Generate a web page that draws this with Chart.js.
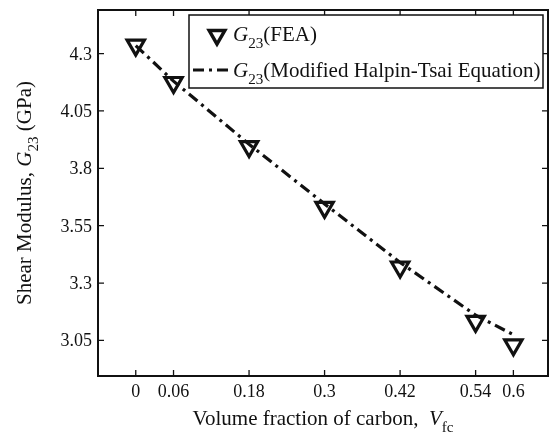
<!DOCTYPE html>
<html>
<head>
<meta charset="utf-8">
<script src="https://cdn.jsdelivr.net/npm/chart.js@4.4.1/dist/chart.umd.min.js"></script>
<style>
  html, body { margin: 0; padding: 0; background: #fff; overflow: hidden; }
  #wrap { width: 549px; height: 438px; position: relative; }
  #wrap canvas { display: block; }
</style>
</head>
<body>
<div id="wrap"><canvas id="g23Chart"></canvas></div>
<script>
// Volume fraction of carbon vs shear modulus G23 (GPa)
const volumeFractions = [0, 0.06, 0.18, 0.3, 0.42, 0.54, 0.6];
const feaValues = [4.337, 4.174, 3.895, 3.63, 3.37, 3.133, 3.031];
const halpinTsaiValues = [4.335, 4.18, 3.905, 3.645, 3.39, 3.16, 3.075];

const xTickValues = [0, 0.06, 0.18, 0.3, 0.42, 0.54, 0.6];
const xTickLabels = ["0", "0.06", "0.18", "0.3", "0.42", "0.54", "0.6"];
const yTickValues = [3.05, 3.3, 3.55, 3.8, 4.05, 4.3];
const yTickLabels = ["3.05", "3.3", "3.55", "3.8", "4.05", "4.3"];

const SERIF = "'Liberation Serif', 'DejaVu Serif', serif";
const INK = "#111";
const DASH = [11, 5, 3, 5];

// draw text made of pieces (italic letters, subscripts)
function drawRichText(ctx, parts, x, y, size) {
  let cx = x;
  parts.forEach((p) => {
    const fs = p.sub ? size * 0.72 : size;
    ctx.font = `${p.italic ? "italic " : ""}${fs}px ${SERIF}`;
    ctx.fillText(p.text, cx, y + (p.sub ? size * 0.33 : 0));
    cx += ctx.measureText(p.text).width;
  });
}

function richTextWidth(ctx, parts, size) {
  let w = 0;
  parts.forEach((p) => {
    const fs = p.sub ? size * 0.72 : size;
    ctx.font = `${p.italic ? "italic " : ""}${fs}px ${SERIF}`;
    w += ctx.measureText(p.text).width;
  });
  return w;
}

// MATLAB-style box: frame, inward ticks, tick labels, titles and legend
const framePlugin = {
  id: "frame",
  afterDraw(chart) {
    const { ctx, chartArea: a, scales } = chart;
    ctx.save();
    ctx.strokeStyle = INK;
    ctx.lineWidth = 2;
    ctx.strokeRect(a.left, a.top, a.right - a.left, a.bottom - a.top);

    ctx.lineWidth = 1.3;
    ctx.beginPath();
    xTickValues.forEach((v) => {
      const px = scales.x.getPixelForValue(v);
      ctx.moveTo(px, a.bottom);
      ctx.lineTo(px, a.bottom - 6);
      ctx.moveTo(px, a.top);
      ctx.lineTo(px, a.top + 6);
    });
    yTickValues.forEach((v) => {
      const py = scales.y.getPixelForValue(v);
      ctx.moveTo(a.left, py);
      ctx.lineTo(a.left + 6, py);
      ctx.moveTo(a.right, py);
      ctx.lineTo(a.right - 6, py);
    });
    ctx.stroke();

    // tick labels
    ctx.fillStyle = INK;
    ctx.font = `18px ${SERIF}`;
    ctx.textBaseline = "alphabetic";
    ctx.textAlign = "center";
    xTickValues.forEach((v, i) => {
      ctx.fillText(xTickLabels[i], scales.x.getPixelForValue(v), a.bottom + 21);
    });
    ctx.textAlign = "right";
    yTickValues.forEach((v, i) => {
      ctx.fillText(yTickLabels[i], a.left - 6, scales.y.getPixelForValue(v) + 6);
    });
    ctx.textAlign = "left";

    // axis titles
    const xTitle = [
      { text: "Volume fraction of carbon,  " },
      { text: "V", italic: true },
      { text: "fc", sub: true },
    ];
    const xw = richTextWidth(ctx, xTitle, 21);
    drawRichText(ctx, xTitle, (a.left + a.right) / 2 - xw / 2, 425, 21);

    const yTitle = [
      { text: "Shear Modulus, " },
      { text: "G", italic: true },
      { text: "23", sub: true },
      { text: " (GPa)" },
    ];
    const yw = richTextWidth(ctx, yTitle, 21);
    ctx.save();
    ctx.translate(31, (a.top + a.bottom) / 2);
    ctx.rotate(-Math.PI / 2);
    drawRichText(ctx, yTitle, -yw / 2, 0, 21);
    ctx.restore();

    // legend box
    ctx.fillStyle = "#fff";
    ctx.fillRect(189, 15, 354, 73);
    ctx.strokeStyle = INK;
    ctx.lineWidth = 1.5;
    ctx.strokeRect(189, 15, 354, 73);

    ctx.fillStyle = "#fff";
    ctx.lineWidth = 3.5;
    Chart.helpers.drawPoint(ctx, { pointStyle: "triangle", rotation: 180, radius: 9, borderWidth: 3.5 }, 217, 35);

    ctx.beginPath();
    ctx.setLineDash(DASH);
    ctx.lineWidth = 3;
    ctx.moveTo(193, 70);
    ctx.lineTo(232, 70);
    ctx.stroke();
    ctx.setLineDash([]);

    ctx.fillStyle = INK;
    drawRichText(ctx, [{ text: "G", italic: true }, { text: "23", sub: true }, { text: "(FEA)" }], 233, 41, 21);
    drawRichText(ctx, [{ text: "G", italic: true }, { text: "23", sub: true }, { text: "(Modified Halpin-Tsai Equation)" }], 233, 77, 21);
    ctx.restore();
  },
};

new Chart(document.getElementById("g23Chart"), {
  type: "line",
  data: {
    labels: volumeFractions,
    datasets: [
      {
        label: "G23(Modified Halpin-Tsai Equation)",
        data: volumeFractions.map((x, i) => ({ x: x, y: halpinTsaiValues[i] })),
        borderColor: INK,
        borderWidth: 3.2,
        borderDash: DASH,
        pointRadius: 0,
        tension: 0,
        fill: false,
        order: 1,
      },
      {
        label: "G23(FEA)",
        data: volumeFractions.map((x, i) => ({ x: x, y: feaValues[i] })),
        showLine: false,
        pointStyle: "triangle",
        rotation: 180,
        pointRadius: 10,
        pointBorderWidth: 3.2,
        pointBorderColor: INK,
        pointBackgroundColor: "#fff",
        order: 2,
      },
    ],
  },
  options: {
    responsive: true,
    maintainAspectRatio: false,
    animation: false,
    // axes are drawn by the frame plugin, so the plot box is fixed by padding
    layout: { autoPadding: false, padding: { top: 10, right: 1, left: 98, bottom: 62 } },
    plugins: {
      legend: { display: false },
      tooltip: { enabled: false },
    },
    scales: {
      x: {
        type: "linear",
        min: -0.06,
        max: 0.655,
        display: false,
      },
      y: {
        min: 2.895,
        max: 4.49,
        display: false,
      },
    },
  },
  plugins: [framePlugin],
});
</script>
</body>
</html>
